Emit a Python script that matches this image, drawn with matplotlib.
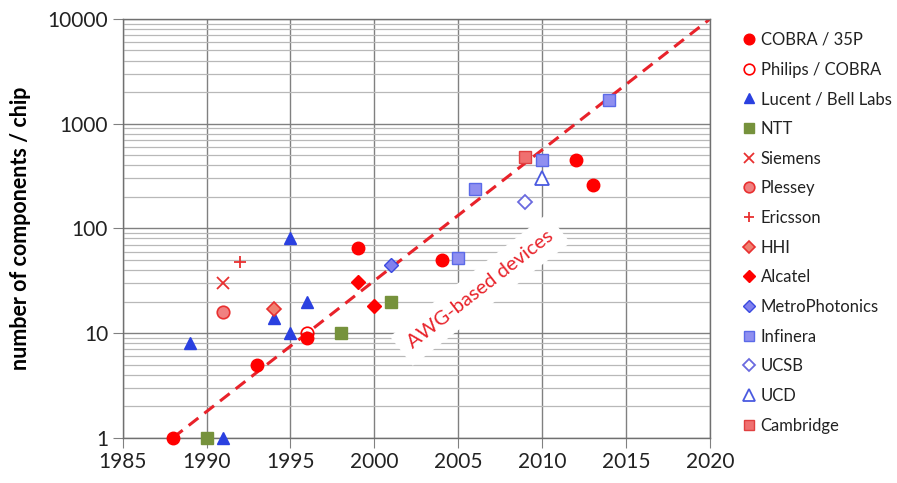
import numpy as np
import matplotlib
matplotlib.use("Agg")
import matplotlib.pyplot as plt
from matplotlib.ticker import FixedLocator, NullFormatter

plt.rcParams['font.family'] = ['Lato', 'DejaVu Sans']

# data: (year, components/chip) per group
cobra_x = [1988, 1993, 1996, 1999, 2004, 2012, 2013]
cobra_y = [1, 5, 9, 65, 50, 450, 260]
philips_x = [1996]
philips_y = [10]
lucent_x = [1989, 1991, 1994, 1995, 1995, 1996]
lucent_y = [8, 1, 14, 10, 80, 20]
ntt_x = [1990, 1998, 2001]
ntt_y = [1, 10, 20]
siemens_x = [1991]
siemens_y = [30]
plessey_x = [1991]
plessey_y = [16]
ericsson_x = [1992]
ericsson_y = [48]
hhi_x = [1994]
hhi_y = [17]
alcatel_x = [1999, 2000]
alcatel_y = [31, 18]
metro_x = [2001]
metro_y = [45]
infinera_x = [2005, 2006, 2010, 2014]
infinera_y = [52, 240, 450, 1700]
ucsb_x = [2009]
ucsb_y = [180]
ucd_x = [2010]
ucd_y = [300]
cambridge_x = [2009]
cambridge_y = [480]

trend_x = [1988, 2020]
trend_y = [1, 10000]

fig = plt.figure(figsize=(8.97, 4.83), dpi=100)
ax = fig.add_axes([0.1368, 0.0938, 0.6547, 0.8669])

ax.set_xlim(1985, 2020)
ax.set_ylim(1, 10000)
ax.set_yscale('log')
ax.xaxis.set_major_locator(FixedLocator(np.arange(1985, 2021, 5)))
ax.yaxis.set_major_locator(FixedLocator([1, 10, 100, 1000, 10000]))
ax.yaxis.set_major_formatter(matplotlib.ticker.FuncFormatter(lambda v, p: "%d" % v))
ax.yaxis.set_minor_locator(matplotlib.ticker.LogLocator(base=10, subs=np.arange(2, 10)))
ax.yaxis.set_minor_formatter(NullFormatter())

ax.grid(True, which='major', color='#808080', lw=1.0, zorder=0)
ax.grid(True, which='minor', axis='y', color='#b8b8b8', lw=0.9, zorder=0)
for s in ax.spines.values():
    s.set_color('#707070')
    s.set_linewidth(1.0)
ax.tick_params(which='major', direction='out', length=7, color='#808080', labelsize=15, colors='#222222')
ax.tick_params(which='minor', length=0)
ax.set_axisbelow(True)

ax.plot(trend_x, trend_y, ls=(0, (4, 2.5)), color='#e8222a', lw=2.2, zorder=2)

ax.text(2006.3, 26, "AWG-based devices", rotation=38, color='#e8222a', fontsize=14.5,
        ha='center', va='center', zorder=3,
        bbox=dict(boxstyle='square,pad=0.5', fc='white', ec='none'))

red = '#ff0000'
ms = 9
kw = dict(ls='none', zorder=5, clip_on=False)
ax.plot(cobra_x, cobra_y, 'o', ms=ms, color=red, mec=red, label='COBRA / 35P', **kw)
ax.plot(philips_x, philips_y, 'o', ms=ms, mfc='none', mec=red, mew=1.2, label='Philips / COBRA', **kw)
ax.plot(lucent_x, lucent_y, '^', ms=ms, color='#2a40e0', label='Lucent / Bell Labs', **kw)
ax.plot(ntt_x, ntt_y, 's', ms=ms, color='#76923c', label='NTT', **kw)
ax.plot(siemens_x, siemens_y, 'x', ms=ms, color='#e83030', mew=1.3, label='Siemens', **kw)
ax.plot(plessey_x, plessey_y, 'o', ms=ms, mfc='#f08080', mec='#e83030', mew=1.2, label='Plessey', **kw)
ax.plot(ericsson_x, ericsson_y, '+', ms=ms, color='#e83030', mew=1.3, label='Ericsson', **kw)
ax.plot(hhi_x, hhi_y, 'D', ms=7, mfc='#f08070', mec='#e83030', mew=1.2, label='HHI', **kw)
ax.plot(alcatel_x, alcatel_y, 'D', ms=7, color=red, label='Alcatel', **kw)
ax.plot(metro_x, metro_y, 'D', ms=7, mfc='#8080ee', mec='#3a4ae0', mew=1.0, label='MetroPhotonics', **kw)
ax.plot(infinera_x, infinera_y, 's', ms=ms, mfc='#8f8ff0', mec='#5b6ae8', mew=1.0, label='Infinera', **kw)
ax.plot(ucsb_x, ucsb_y, 'D', ms=7, mfc='white', mec='#6a6adf', mew=1.3, label='UCSB', **kw)
ax.plot(ucd_x, ucd_y, '^', ms=10, mfc='white', mec='#4a5ae0', mew=1.3, label='UCD', **kw)
ax.plot(cambridge_x, cambridge_y, 's', ms=ms, mfc='#f07070', mec='#e04040', mew=1.0, label='Cambridge', **kw)

ax.set_ylabel("number of components / chip", fontsize=15.5, fontweight='bold', labelpad=12)

leg = ax.legend(loc='upper left', bbox_to_anchor=(1.045, 0.985), frameon=False,
                fontsize=12, handlelength=0.7, handletextpad=0.35, labelspacing=0.82,
                borderaxespad=0, markerscale=0.85)
for t in leg.get_texts():
    t.set_color('#222222')

fig.savefig("out.png", dpi=100)
